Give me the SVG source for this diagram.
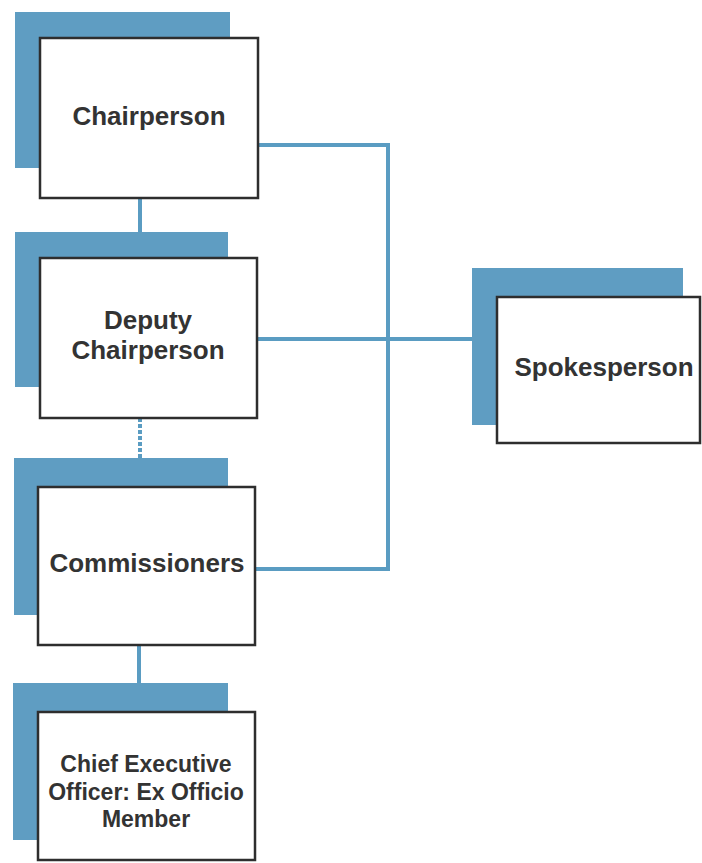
<svg xmlns="http://www.w3.org/2000/svg" width="702" height="863" viewBox="0 0 702 863">
<style>
.back{fill:#5f9dc2}
.box{fill:#fff;stroke:#2e2e2e;stroke-width:2.5}
.lbl{font-family:"Liberation Sans",Arial,sans-serif;font-weight:bold;font-size:26px;fill:#333;text-anchor:middle}
.sm{font-size:23px}
.con{fill:none;stroke:#5a9cc2;stroke-width:4}
</style>
<rect width="702" height="863" fill="#fff"/>
<g id="connectors">
<line class="con" x1="140" y1="198" x2="140" y2="258"/>
<line class="con" x1="140" y1="418" x2="140" y2="487" stroke-dasharray="4 2"/>
<line class="con" x1="139" y1="645" x2="139" y2="712"/>
<polyline class="con" points="258,145 388,145 388,569 255,569"/>
<line class="con" x1="257" y1="339" x2="497" y2="339"/>
</g>
<g id="chairperson">
<rect class="back" x="15" y="12" width="215" height="156"/>
<rect class="box" x="40" y="38" width="218" height="160"/>
<text class="lbl" x="149" y="125">Chairperson</text>
</g>
<g id="deputy">
<rect class="back" x="15" y="232" width="213" height="155"/>
<rect class="box" x="40" y="258" width="217" height="160"/>
<text class="lbl" x="148" y="329">Deputy</text>
<text class="lbl" x="148" y="359">Chairperson</text>
</g>
<g id="commissioners">
<rect class="back" x="14" y="458" width="214" height="157"/>
<rect class="box" x="38" y="487" width="217" height="158"/>
<text class="lbl" x="147" y="572">Commissioners</text>
</g>
<g id="ceo">
<rect class="back" x="13" y="683" width="215" height="157"/>
<rect class="box" x="38" y="712" width="217" height="148"/>
<text class="lbl sm" x="146" y="772">Chief Executive</text>
<text class="lbl sm" x="146" y="800">Officer: Ex Officio</text>
<text class="lbl sm" x="146" y="827">Member</text>
</g>
<g id="spokesperson">
<rect class="back" x="472" y="268" width="211" height="157"/>
<rect class="box" x="497" y="297" width="203" height="146"/>
<text class="lbl" x="604" y="376">Spokesperson</text>
</g>
</svg>
